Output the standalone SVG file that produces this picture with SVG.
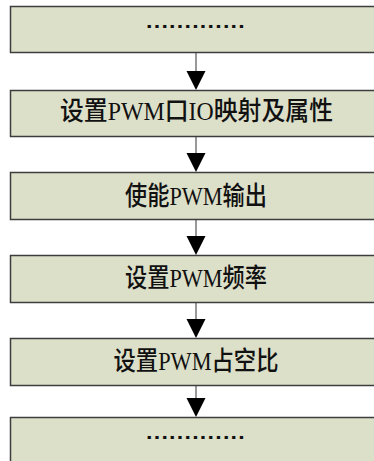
<svg xmlns="http://www.w3.org/2000/svg" width="374" height="461" viewBox="0 0 374 461">
<style>
.box{fill:#dde0c9;stroke:#3d3d3d;stroke-width:1.5}
.lbl{font-family:"Liberation Serif","Noto Sans CJK SC",serif;font-weight:500;font-size:26px;fill:#111;text-anchor:middle}
.dots{font-family:"Liberation Sans","Noto Sans CJK SC",sans-serif;font-weight:bold;font-size:20px;fill:#111;text-anchor:middle}
.conn{stroke:#555;stroke-width:1.2;fill:none}
.head{fill:#000}
</style>
<rect width="374" height="461" fill="#fff"/>
<g id="connectors">
<line class="conn" x1="196" y1="52" x2="196" y2="72"/><polygon class="head" points="186.5,71 205.5,71 196,90"/>
<line class="conn" x1="196" y1="136" x2="196" y2="154"/><polygon class="head" points="186.5,153 205.5,153 196,172"/>
<line class="conn" x1="196" y1="219" x2="196" y2="237"/><polygon class="head" points="186.5,236 205.5,236 196,255"/>
<line class="conn" x1="196" y1="302" x2="196" y2="320"/><polygon class="head" points="186.5,319 205.5,319 196,338"/>
<line class="conn" x1="196" y1="385" x2="196" y2="399"/><polygon class="head" points="186.5,398 205.5,398 196,417"/>
</g>
<g id="n1"><rect class="box" x="10.5" y="6.5" width="380" height="46"/><text class="dots" x="196" y="33" textLength="100" lengthAdjust="spacingAndGlyphs">·············</text></g>
<g id="n2"><rect class="box" x="10.5" y="90.5" width="380" height="46"/><text class="lbl" x="196.5" y="120" textLength="273" lengthAdjust="spacingAndGlyphs">设置PWM口IO映射及属性</text></g>
<g id="n3"><rect class="box" x="10.5" y="172.5" width="380" height="47"/><text class="lbl" x="196" y="205" textLength="142" lengthAdjust="spacingAndGlyphs">使能PWM输出</text></g>
<g id="n4"><rect class="box" x="10.5" y="255.5" width="380" height="47"/><text class="lbl" x="196" y="287" textLength="142" lengthAdjust="spacingAndGlyphs">设置PWM频率</text></g>
<g id="n5"><rect class="box" x="10.5" y="338.5" width="380" height="47"/><text class="lbl" x="196" y="370" textLength="165" lengthAdjust="spacingAndGlyphs">设置PWM占空比</text></g>
<g id="n6"><rect class="box" x="10.5" y="417.5" width="380" height="60"/><text class="dots" x="196" y="444" textLength="100" lengthAdjust="spacingAndGlyphs">·············</text></g>
</svg>
